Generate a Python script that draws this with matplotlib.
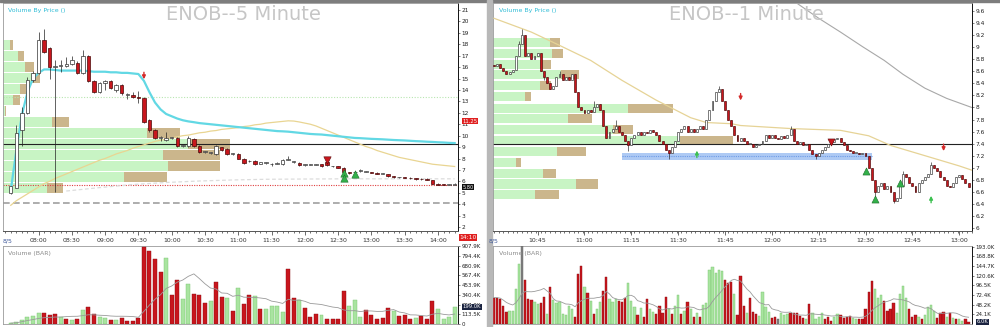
import numpy as np
import pandas as pd
import matplotlib
matplotlib.use('Agg')
import matplotlib.pyplot as plt
from matplotlib.patches import Rectangle
from matplotlib.ticker import MultipleLocator

W, H = 1000, 327

# ---------------- ENOB 5 minute (left) ----------------
l_open = [5.0, 5.45, 10.5, 12.0, 14.9, 15.5, 18.4, 17.7, 16.0, 16.1, 16.1, 16.3, 16.4, 15.5, 17.0, 14.8,
          13.8, 14.6, 14.8, 14.0, 14.4, 13.6, 13.6, 13.35, 13.3, 11.4, 10.5, 9.8, 9.65, 9.8, 9.8, 9.1,
          9.1, 9.7, 9.1, 8.6, 8.5, 8.4, 9.0, 8.85, 8.4, 8.4, 8.0, 7.75, 7.8, 7.55, 7.6, 7.5, 7.55, 7.5,
          7.9, 7.7, 7.6, 7.4, 7.45, 7.45, 7.5, 7.7, 7.3, 7.3, 7.2, 6.8, 6.8, 6.9, 6.85, 6.8, 6.75, 6.65,
          6.6, 6.45, 6.35, 6.35, 6.3, 6.25, 6.2, 6.2, 6.1, 5.8, 5.72, 5.7, 5.7]
l_close = [5.55, 10.2, 12.0, 14.9, 15.5, 18.4, 17.3, 16.0, 16.0, 16.1, 16.25, 16.6, 15.5, 17.0, 14.8, 13.8,
           14.6, 14.8, 14.2, 14.4, 13.7, 13.6, 13.4, 13.3, 11.2, 10.5, 9.8, 9.8, 9.8, 9.8, 9.1, 9.1,
           9.8, 9.1, 8.6, 8.6, 8.5, 9.1, 8.75, 8.4, 8.45, 8.0, 7.6, 7.8, 7.5, 7.65, 7.6, 7.5, 7.6, 7.9,
           7.9, 7.7, 7.4, 7.5, 7.45, 7.45, 7.3, 7.4, 7.3, 7.2, 6.85, 6.7, 6.8, 6.9, 6.85, 6.75, 6.65, 6.65,
           6.45, 6.35, 6.35, 6.3, 6.25, 6.2, 6.18, 6.15, 5.8, 5.7, 5.68, 5.7, 5.8]
l_high = [5.6, 10.9, 12.5, 15.1, 15.7, 19.1, 19.3, 17.8, 16.6, 16.6, 16.9, 17.0, 16.5, 17.5, 17.1, 14.9,
          14.7, 14.9, 14.9, 14.5, 14.5, 13.7, 13.8, 13.9, 13.4, 11.5, 10.6, 10.0, 10.3, 9.9, 9.85, 9.2,
          10.0, 9.8, 9.15, 8.7, 8.6, 9.2, 9.05, 8.9, 8.5, 8.45, 8.05, 7.9, 7.85, 7.7, 7.7, 7.6, 7.7, 8.0,
          8.2, 7.8, 7.65, 7.55, 7.5, 7.5, 7.55, 7.75, 7.35, 7.35, 7.25, 6.85, 6.9, 7.1, 6.9, 6.85, 6.8, 6.7,
          6.65, 6.5, 6.4, 6.4, 6.35, 6.3, 6.25, 6.25, 6.15, 5.85, 5.75, 5.75, 5.85]
l_low = [4.9, 5.4, 9.1, 11.9, 14.7, 15.4, 17.2, 15.0, 5.1, 15.6, 16.0, 16.2, 15.4, 15.4, 14.7, 13.7,
         13.7, 14.0, 14.1, 13.8, 13.6, 13.2, 13.3, 12.9, 11.1, 10.3, 9.7, 9.5, 9.5, 9.7, 9.0, 9.0,
         9.0, 9.0, 8.5, 8.5, 8.4, 8.35, 8.7, 8.35, 8.35, 7.95, 7.55, 7.7, 7.45, 7.5, 7.5, 7.3, 7.5, 7.45,
         7.85, 7.6, 7.35, 7.35, 7.4, 7.4, 7.25, 7.35, 7.25, 7.15, 6.8, 6.65, 6.7, 6.85, 6.8, 6.7, 6.6, 6.6,
         6.4, 6.3, 6.3, 6.25, 6.2, 6.15, 6.15, 6.1, 5.75, 5.65, 5.65, 5.65, 5.65]
l_vol = [10, 19, 51, 82, 97, 129, 129, 101, 113, 82, 62, 51, 58, 160, 195, 121, 82, 74, 51, 51, 66, 39,
         35, 70, 900, 850, 764, 604, 775, 343, 510, 292, 468, 355, 343, 249, 265, 491, 312, 304, 156,
         425, 234, 343, 331, 179, 179, 210, 207, 140, 643, 300, 277, 187, 82, 121, 109, 62, 62, 62, 382,
         207, 284, 82, 164, 109, 58, 70, 183, 148, 97, 101, 58, 70, 90, 58, 265, 179, 62, 82, 199]
l_volcol = "gggggg" + "rrrgrgrgrrggrgrrrr" + "rrrrgrrggrrrgrrgrgrrgrgggg" + "rrgrrrgrrrrgggrrrrrgrrrgrrrgg"
l_cyan = [5.2, 8.7, 11.8, 13.8, 15.0, 15.5, 15.8, 15.8, 15.75, 15.7, 15.7, 15.7, 15.7, 15.7, 15.65, 15.6,
          15.6, 15.6, 15.55, 15.55, 15.5, 15.5, 15.45, 15.4, 14.8, 13.8, 12.9, 12.3, 11.9, 11.7, 11.5,
          11.35, 11.25, 11.18, 11.1, 11.05, 11.0, 10.95, 10.9, 10.85, 10.8, 10.75, 10.7, 10.65, 10.6,
          10.55, 10.5, 10.45, 10.4, 10.38, 10.35, 10.3, 10.25, 10.2, 10.15, 10.12, 10.1, 10.05, 10.0,
          9.95, 9.9, 9.85, 9.8, 9.78, 9.75, 9.72, 9.7, 9.68, 9.65, 9.62, 9.6, 9.58, 9.55, 9.52, 9.5,
          9.47, 9.45, 9.42, 9.4, 9.37, 9.35]
l_tan = [3.9, 4.3, 4.6, 4.9, 5.2, 5.5, 5.8, 6.0, 6.25, 6.45, 6.65, 6.85, 7.05, 7.25, 7.45, 7.65, 7.85,
         8.0, 8.2, 8.4, 8.55, 8.7, 8.9, 9.05, 9.2, 9.35, 9.5, 9.6, 9.7, 9.8, 9.9, 10.0, 10.05, 10.15,
         10.25, 10.3, 10.4, 10.45, 10.55, 10.6, 10.65, 10.7, 10.8, 10.85, 10.95, 11.0, 11.1, 11.15, 11.2,
         11.25, 11.3, 11.28, 11.2, 11.1, 11.0, 10.85, 10.65, 10.45, 10.25, 10.05, 9.85, 9.65, 9.45, 9.25,
         9.05, 8.9, 8.7, 8.55, 8.4, 8.25, 8.1, 8.0, 7.9, 7.8, 7.7, 7.6, 7.5, 7.45, 7.4, 7.35, 7.3]
l_band_x = [10, 16, 22, 28, 34, 40, 46, 52, 60, 70, 80]
l_band_y = [5.15, 5.45, 5.72, 5.9, 6.03, 6.12, 6.18, 6.2, 6.22, 6.22, 6.22]
l_prof_price = [17.92, 16.96, 16.0, 15.04, 14.08, 13.12, 12.16, 11.2, 10.24, 9.28, 8.32, 7.36, 6.4, 5.44]
l_prof_buy = [7, 15, 22, 29, 17, 10, 2, 49, 144, 185, 160, 165, 121, 44]
l_prof_all = [10, 21, 31, 37, 23, 17, 3, 66, 177, 227, 217, 217, 164, 60]
l_times = ['08:00', '08:30', '09:00', '09:30', '10:00', '10:30', '11:00', '11:30', '12:00',
           '12:30', '13:00', '13:30', '14:00']
l_up_tri_x, l_up_tri_y = [60, 60, 62], [6.75, 6.3, 6.66]
l_dn_tri_x, l_dn_tri_y = [57], [7.9]
l_dn_arr_x, l_dn_arr_y = [24], [14.7]
l_vol_ticks = [0, 113.5, 227.0, 340.4, 453.9, 567.4, 680.9, 794.4, 907.9]

# ---------------- ENOB 1 minute (right) ----------------
r_close = [8.68, 8.72, 8.65, 8.6, 8.55, 8.58, 8.62, 8.85, 9.05, 9.2, 8.85, 8.9, 8.8, 8.85, 8.9, 8.6,
           8.5, 8.4, 8.3, 8.35, 8.5, 8.55, 8.45, 8.5, 8.45, 8.55, 8.25, 8.0, 7.95, 7.9, 7.95, 7.92, 8.0,
           8.05, 7.95, 7.7, 7.5, 7.6, 7.65, 7.7, 7.6, 7.55, 7.45, 7.38, 7.5, 7.55, 7.6, 7.55, 7.6, 7.58,
           7.62, 7.6, 7.55, 7.45, 7.4, 7.3, 7.25, 7.35, 7.45, 7.6, 7.65, 7.7, 7.6, 7.65, 7.6, 7.65, 7.7,
           7.65, 7.8, 7.95, 8.1, 8.25, 8.3, 8.1, 7.95, 7.8, 7.7, 7.55, 7.45, 7.5, 7.45, 7.4, 7.4, 7.35,
           7.38, 7.4, 7.45, 7.55, 7.5, 7.55, 7.5, 7.48, 7.52, 7.5, 7.55, 7.65, 7.45, 7.4, 7.42, 7.38, 7.4,
           7.3, 7.22, 7.2, 7.25, 7.3, 7.35, 7.4, 7.42, 7.48, 7.5, 7.42, 7.38, 7.3, 7.28, 7.25, 7.25, 7.22,
           7.24, 7.2, 7.0, 6.8, 6.6, 6.7, 6.75, 6.65, 6.7, 6.6, 6.45, 6.5, 6.7, 6.9, 6.85, 6.75, 6.7, 6.6,
           6.75, 6.8, 6.85, 6.9, 7.05, 7.0, 6.95, 6.85, 6.8, 6.7, 6.68, 6.75, 6.85, 6.88, 6.82, 6.75, 6.68]
r_first_open = 8.7
r_high_ext = {8: 9.1, 9: 9.3, 21: 8.6, 32: 8.1, 39: 7.8, 72: 8.35, 95: 7.7, 131: 6.95, 140: 7.1}
r_low_ext = {16: 8.45, 43: 7.28, 56: 7.15, 103: 7.15, 122: 6.5, 128: 6.42}
r_vol = [66, 66, 62, 45, 30, 32, 32, 88, 149, 195, 111, 63, 60, 55, 49,
         52, 68, 24, 93, 60, 52, 56, 24, 22,
         45, 37, 18, 124, 146, 93, 78, 57, 24, 37,
         55, 82, 117, 63, 55, 62, 57, 55, 66, 103,
         57, 43, 22, 41, 18, 62, 37, 30, 24,
         45, 28, 68, 38, 24, 45, 72, 24, 32,
         55, 37, 18, 28, 18, 47, 52, 135, 143, 128, 136, 132, 110, 103, 105, 74,
         22, 120, 45, 28, 66, 30, 24, 20,
         80, 43, 30, 16, 18, 13, 27, 22,
         24, 27, 28, 28, 20, 16, 12,
         49, 27, 13, 18, 28, 12, 18, 7,
         18, 24, 22, 16, 18, 20, 16,
         12, 13, 13, 38, 80, 107, 88, 66, 72, 57, 32, 38, 52,
         28, 74, 95, 66, 38, 18, 22,
         18, 13, 22, 43, 47, 32, 16,
         28, 30, 18, 28, 16, 12, 12,
         7, 12, 6]
r_volcol = ("rrrrrggggkrrrgg" + "rrgrggggg" + "ggrrrgrgrg" + "grrgggrrrg" + "ggrgrrggr" + "rrrgrggrg"
            + "rgrgrgggggggrrrg" + "rrrgrrrg" + "gggrrkgg" + "grrrrrg" + "rggggrrr" + "ggrrrrg"
            + "grrrrrgggrrrr" + "ggggrrr" + "grggggr" + "rrgrgrg" + "grr")
r_tan_x = [0, 12, 21, 31, 41, 52, 63, 68, 76, 79, 95, 111, 120, 127, 138, 149, 153]
r_tan_y = [9.48, 9.25, 9.03, 8.78, 8.45, 8.12, 7.83, 7.75, 7.73, 7.7, 7.65, 7.62, 7.53, 7.37, 7.2, 7.03, 6.96]
r_slow_x = [97, 104, 111, 118, 125, 131, 138, 145, 153]
r_slow_y = [9.73, 9.48, 9.25, 9.01, 8.78, 8.55, 8.32, 8.15, 8.0]
r_prof_price = [9.08, 8.90, 8.72, 8.54, 8.36, 8.18, 7.99, 7.81, 7.63, 7.45, 7.27, 7.09, 6.91, 6.73, 6.55]
r_prof_buy = [57, 59, 47, 68, 47, 32, 135, 75, 120, 187, 64, 23, 50, 83, 42]
r_prof_all = [67, 70, 58, 86, 58, 38, 180, 99, 140, 240, 93, 28, 63, 105, 66]
r_times = ['10:45', '11:00', '11:15', '11:30', '11:45', '12:00', '12:15', '12:30', '12:45', '13:00']
r_support, r_support_from, r_support_to = 7.19, 41, 121
r_up_tri_x, r_up_tri_y = [119, 122, 130], [6.95, 6.48, 6.75]
r_dn_tri_x, r_dn_tri_y = [108], [7.42]
r_up_arr_x, r_up_arr_y = [65, 140], [7.33, 6.58]
r_dn_arr_x, r_dn_arr_y = [79, 144], [8.07, 7.23]
r_vol_ticks = [24.1, 48.2, 72.4, 96.5, 120.6, 144.7, 168.8, 193.0]

RED = '#c8161d'
VGREEN = '#a9e4a0'
PGREEN = '#c8f4c4'
TAN = '#cbb68c'


def rect(x0, y0, x1, y1):
    return [x0 / W, 1 - y1 / H, (x1 - x0) / W, (y1 - y0) / H]


def draw_candles(ax, o, h, l, c, width, lw, min_body):
    o, h, l, c = map(np.asarray, (o, h, l, c))
    x = np.arange(len(o))
    up = c >= o
    ax.vlines(x, l, h, color='#222222', lw=lw, zorder=4)
    lo = np.minimum(o, c)
    bh = np.maximum(np.abs(c - o), min_body)
    ax.bar(x[up], bh[up], bottom=lo[up], width=width, color='white', edgecolor='#333333',
           lw=lw, zorder=5)
    ax.bar(x[~up], bh[~up], bottom=lo[~up], width=width, color=RED, edgecolor='#4a0808',
           lw=lw, zorder=5)


def draw_profile(ax, price, buy, total, height, xmax):
    pa = ax.twiny()
    pa.set_xlim(0, xmax)
    pa.axis('off')
    pa.barh(price, buy, height=height, color=PGREEN, zorder=1)
    pa.barh(price, np.array(total) - np.array(buy), left=buy, height=height, color=TAN, zorder=1)
    return pa


def style_axis(ax):
    for s in ['top', 'left']:
        ax.spines[s].set_color('#9a9a9a')
        ax.spines[s].set_linewidth(0.6)
    ax.spines['right'].set_color('#111111')
    ax.spines['right'].set_linewidth(0.7)
    ax.spines['bottom'].set_color('#555555')
    ax.spines['bottom'].set_linewidth(0.7)
    ax.yaxis.tick_right()
    ax.tick_params(axis='y', labelsize=4.2, length=1.5, width=0.4, pad=1, colors='#222222')
    ax.tick_params(axis='x', labelsize=4.5, length=3, width=0.5, pad=2, colors='#333333')
    ax.tick_params(axis='x', which='minor', length=1.5, width=0.4)


def draw_volume(ax, vol, cols, width):
    vol = np.asarray(vol, dtype=float)
    x = np.arange(len(vol))
    cmap = {'r': RED, 'g': VGREEN, 'k': '#808080'}
    emap = {'r': '#8a0c10', 'g': '#78c46e', 'k': '#606060'}
    cl = [cmap[cols[i]] if i < len(cols) else VGREEN for i in range(len(vol))]
    el = [emap[cols[i]] if i < len(cols) else '#78c46e' for i in range(len(vol))]
    ax.bar(x, vol, width=width, color=cl, edgecolor=el, lw=0.3, zorder=3)
    ma = pd.Series(vol).rolling(10, min_periods=1).mean()
    ax.plot(x, ma, color='#9a9a9a', lw=0.6, zorder=4)
    ax.set_xticks([])
    ax.yaxis.tick_right()
    ax.tick_params(axis='y', labelsize=4.0, length=1.5, width=0.4, pad=1, colors='#222222')
    for s in ['top', 'left', 'bottom']:
        ax.spines[s].set_color('#9a9a9a')
        ax.spines[s].set_linewidth(0.6)
    ax.spines['right'].set_color('#111111')
    ax.spines['right'].set_linewidth(0.7)
    ax.text(0.012, 0.9, 'Volume (BAR)', transform=ax.transAxes, fontsize=4.5, color='#8c8c8c',
            va='center', zorder=6)


fig = plt.figure(figsize=(10, 3.27), dpi=100, facecolor='white')

# ======== left panel ========
axL = fig.add_axes(rect(3, 3, 458, 231))
nL = len(l_close)
axL.set_xlim(-1.4, nL - 0.4)
axL.set_ylim(1.65, 21.62)
draw_profile(axL, l_prof_price, l_prof_buy, l_prof_all, 0.84, 455)
axL.set_zorder(2)
axL.patch.set_visible(False)
axL.axhline(13.35, color='#b8e6b0', lw=0.8, ls=(0, (1, 1.5)), zorder=2)
axL.axhline(9.3, color='#222222', lw=0.8, zorder=2)
axL.axhline(5.7, color='#e04040', lw=0.8, ls=(0, (1, 1.2)), zorder=2)
axL.axhline(4.1, color='#a0a0a0', lw=1.2, ls=(0, (4, 2)), zorder=2)
axL.plot(l_band_x, l_band_y, color='#dcdcdc', lw=0.9, ls=(0, (3, 2)), zorder=2)
x = np.arange(nL)
axL.plot(x, l_tan, color='#e9d592', lw=0.9, zorder=3)
axL.plot(x, l_cyan, color='#62d8e4', lw=1.6, zorder=3)
draw_candles(axL, l_open, l_high, l_low, l_close, 0.62, 0.5, 0.06)
axL.scatter(l_up_tri_x, l_up_tri_y, marker='^', s=28, color='#33b04a', edgecolor='#1c6e2a', lw=0.4, zorder=6)
axL.scatter(l_dn_tri_x, l_dn_tri_y, marker='v', s=28, color=RED, edgecolor='#5a0a0a', lw=0.4, zorder=6)
for xa, ya in zip(l_dn_arr_x, l_dn_arr_y):
    axL.annotate('', xy=(xa, ya), xytext=(0, 9), textcoords='offset points',
                 arrowprops=dict(arrowstyle='-|>', color='#d42a2a', lw=1.0, mutation_scale=5), zorder=6)
style_axis(axL)
axL.set_yticks(range(2, 22))
axL.set_yticklabels([str(v) for v in range(2, 22)])
axL.set_xticks([5 + 6 * k for k in range(len(l_times))])
axL.set_xticklabels(l_times)
axL.xaxis.set_minor_locator(MultipleLocator(1))
axL.text(-0.6, -0.034, '8/5', transform=axL.get_xaxis_transform(), fontsize=4.5, color='#405a9a',
         ha='center', va='top')
axL.text(1.003, -0.028, '14:10', transform=axL.transAxes, fontsize=4.3, color='white', ha='left',
         va='center', bbox=dict(boxstyle='square,pad=0.12', fc='#e02020', ec='none'))
axL.text(1.01, 5.5, f'{l_close[-1]:.2f}', transform=axL.get_yaxis_transform(), fontsize=3.6,
         color='white', va='center', zorder=7,
         bbox=dict(boxstyle='square,pad=0.08', fc='#111111', ec='none'))
axL.text(1.01, 11.25, '11.25', transform=axL.get_yaxis_transform(), fontsize=3.8,
         color='white', va='center', bbox=dict(boxstyle='square,pad=0.1', fc='#e02020', ec='none'))
axL.text(0.012, 0.965, 'Volume By Price ()', transform=axL.transAxes, fontsize=4.5, color='#2fbcd6',
         va='center')
fig.text(243 / W, 1 - 15 / H, 'ENOB--5 Minute', fontsize=14, color='#c6c6c6', ha='center', va='center')

axLV = fig.add_axes(rect(3, 246, 458, 324))
axLV.set_xlim(-1.4, nL - 0.4)
axLV.set_ylim(0, 912)
draw_volume(axLV, l_vol, l_volcol, 0.72)
axLV.set_yticks(l_vol_ticks)
axLV.set_yticklabels(['0'] + [f'{v:.1f}K' for v in l_vol_ticks[1:]])
axLV.text(1.01, l_vol[-1], f'{l_vol[-1]:.1f}K', transform=axLV.get_yaxis_transform(), fontsize=3.8,
          color='white', va='center', bbox=dict(boxstyle='square,pad=0.1', fc='#1a2340', ec='none'))

# ======== right panel ========
axR = fig.add_axes(rect(493, 3, 972, 231))
nR = len(r_close)
axR.set_xlim(-0.3, nR + 0.1)
axR.set_ylim(5.95, 9.733)
draw_profile(axR, r_prof_price, r_prof_buy, r_prof_all, 0.15, 479)
axR.set_zorder(2)
axR.patch.set_visible(False)
axR.axhline(7.4, color='#222222', lw=0.8, zorder=2)
axR.fill_between([r_support_from, r_support_to], r_support - 0.058, r_support + 0.058,
                 color='#aecaf4', zorder=2, lw=0)
axR.hlines(r_support, r_support_from, r_support_to, color='#6f9ce6', lw=0.8, ls=(0, (1, 1)), zorder=2)
axR.plot(r_slow_x, r_slow_y, color='#a8a8a8', lw=0.8, zorder=3)
axR.plot(r_tan_x, r_tan_y, color='#e6d396', lw=0.9, zorder=3)
r_open = [r_first_open] + r_close[:-1]
r_high = [max(a, b) for a, b in zip(r_open, r_close)]
r_low = [min(a, b) for a, b in zip(r_open, r_close)]
for k, v in r_high_ext.items():
    r_high[k] = v
for k, v in r_low_ext.items():
    r_low[k] = v
draw_candles(axR, r_open, r_high, r_low, r_close, 0.62, 0.45, 0.015)
axR.scatter(r_up_tri_x, r_up_tri_y, marker='^', s=26, color='#33b04a', edgecolor='#1c6e2a', lw=0.4, zorder=6)
axR.scatter(r_dn_tri_x, r_dn_tri_y, marker='v', s=26, color=RED, edgecolor='#5a0a0a', lw=0.4, zorder=6)
for xa, ya in zip(r_dn_arr_x, r_dn_arr_y):
    axR.annotate('', xy=(xa, ya), xytext=(0, 9), textcoords='offset points',
                 arrowprops=dict(arrowstyle='-|>', color='#d42a2a', lw=1.0, mutation_scale=5), zorder=6)
for xa, ya in zip(r_up_arr_x, r_up_arr_y):
    axR.annotate('', xy=(xa, ya), xytext=(0, -9), textcoords='offset points',
                 arrowprops=dict(arrowstyle='-|>', color='#3cc050', lw=1.0, mutation_scale=5), zorder=6)
style_axis(axR)
rt = [round(6 + 0.2 * k, 1) for k in range(19)]
axR.set_yticks(rt)
axR.set_yticklabels([f'{v:g}' for v in rt])
axR.set_xticks([14 + 15 * k for k in range(len(r_times))])
axR.set_xticklabels(r_times)
axR.xaxis.set_minor_locator(MultipleLocator(1.5))
axR.text(0.0, -0.034, '8/5', transform=axR.get_xaxis_transform(), fontsize=4.5, color='#405a9a',
         ha='center', va='top')
axR.text(0.012, 0.965, 'Volume By Price ()', transform=axR.transAxes, fontsize=4.5, color='#2fbcd6',
         va='center')
fig.text(746 / W, 1 - 15 / H, 'ENOB--1 Minute', fontsize=14, color='#c6c6c6', ha='center', va='center')

axRV = fig.add_axes(rect(493, 246, 972, 324))
axRV.set_xlim(-0.3, nR + 0.1)
axRV.set_ylim(0, 195)
draw_volume(axRV, r_vol, r_volcol, 0.72)
axRV.set_yticks(r_vol_ticks)
axRV.set_yticklabels([f'{v:.1f}K' for v in r_vol_ticks])
axRV.text(1.01, r_vol[-1], f'{r_vol[-1]:.1f}K', transform=axRV.get_yaxis_transform(), fontsize=3.8,
          color='white', va='center', bbox=dict(boxstyle='square,pad=0.1', fc='#1a2340', ec='none'))

# frame decorations
fig.patches.append(Rectangle((0, 1 - 2 / H), 1, 2 / H, transform=fig.transFigure, color='#7d7d7d'))
fig.patches.append(Rectangle((487 / W, 0), 5 / W, 1, transform=fig.transFigure, color='#b8b8b8'))

fig.savefig('out.png', dpi=100, facecolor='white')
